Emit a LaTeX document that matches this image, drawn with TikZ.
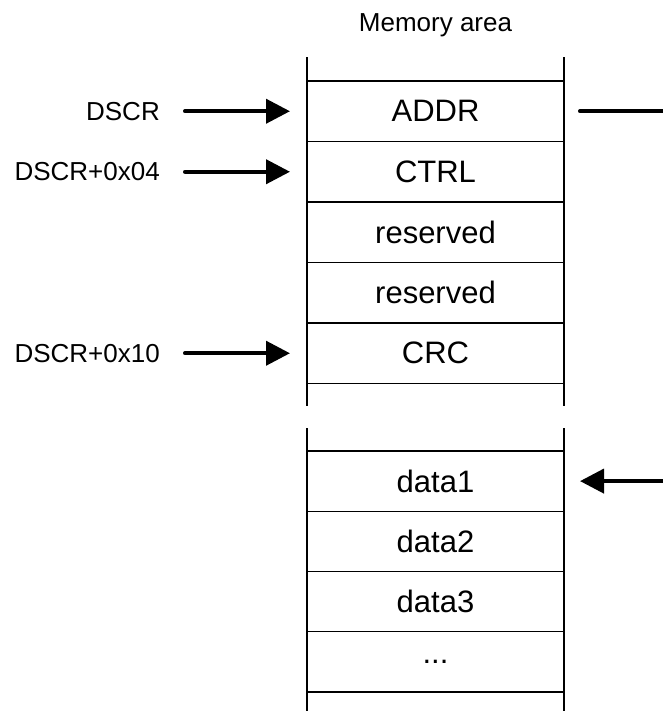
\documentclass[tikz,border=0pt]{standalone}
\usepackage{fontspec}
\setmainfont{Liberation Sans}
\usetikzlibrary{arrows.meta,positioning}

\begin{document}
\begin{tikzpicture}[x=1pt, y=-1pt,
  cell/.style={draw, line width=1.2pt, outer sep=0pt, inner sep=0pt,
               minimum width=257pt, minimum height=60.5pt,
               font=\fontsize{31}{36}\selectfont},
  lbl/.style={inner sep=0pt, font=\fontsize{26}{31}\selectfont},
  stub/.style={line width=1.2pt},
  ptr/.style={line width=4pt, line cap=round,
              -{Triangle[length=24pt,width=24pt]}}]
  \useasboundingbox (0,0) rectangle (662,711);
  \node[lbl] (title) at (435.5,25) {Memory area};
  % descriptor
  \node[cell] (addr) at (435.5,111.25) {ADDR};
  \node[cell, below=0pt of addr] (ctrl) {CTRL};
  \node[cell, below=0pt of ctrl] (res1) {reserved};
  \node[cell, below=0pt of res1] (res2) {reserved};
  \node[cell, below=0pt of res2] (crc) {CRC};
  \draw[stub] (addr.north west) -- ++(0,-24) (addr.north east) -- ++(0,-24);
  \draw[stub] (crc.south west) -- ++(0,22) (crc.south east) -- ++(0,22);
  % data buffer
  \node[cell, minimum height=60.25pt] (data1) at (435.5,481.1) {data1};
  \node[cell, minimum height=60.25pt, below=0pt of data1] (data2) {data2};
  \node[cell, minimum height=60.25pt, below=0pt of data2] (data3) {data3};
  \node[cell, minimum height=60.25pt, below=0pt of data3] (more) {...};
  \draw[stub] (data1.north west) -- ++(0,-23) (data1.north east) -- ++(0,-23);
  \draw[stub] (more.south west) -- ++(0,22) (more.south east) -- ++(0,22);
  % pointers
  \node[lbl, left=147pt of addr] (dscr) {DSCR};
  \node[lbl, left=147pt of ctrl] (dscr4) {DSCR+0x04};
  \node[lbl, left=147pt of crc] (dscr10) {DSCR+0x10};
  \draw[ptr, shorten <=25pt, shorten >=17pt] (dscr) -- (addr);
  \draw[ptr, shorten <=25pt, shorten >=17pt] (dscr4) -- (ctrl);
  \draw[ptr, shorten <=25pt, shorten >=17pt] (dscr10) -- (crc);
  \coordinate[right=102pt of addr] (addrout);
  \coordinate[right=102pt of data1] (datain);
  \draw[line width=4pt, line cap=round, shorten <=16pt] (addr) -- (addrout);
  \draw[ptr, shorten >=16pt] (datain) -- (data1);
\end{tikzpicture}
\end{document}
